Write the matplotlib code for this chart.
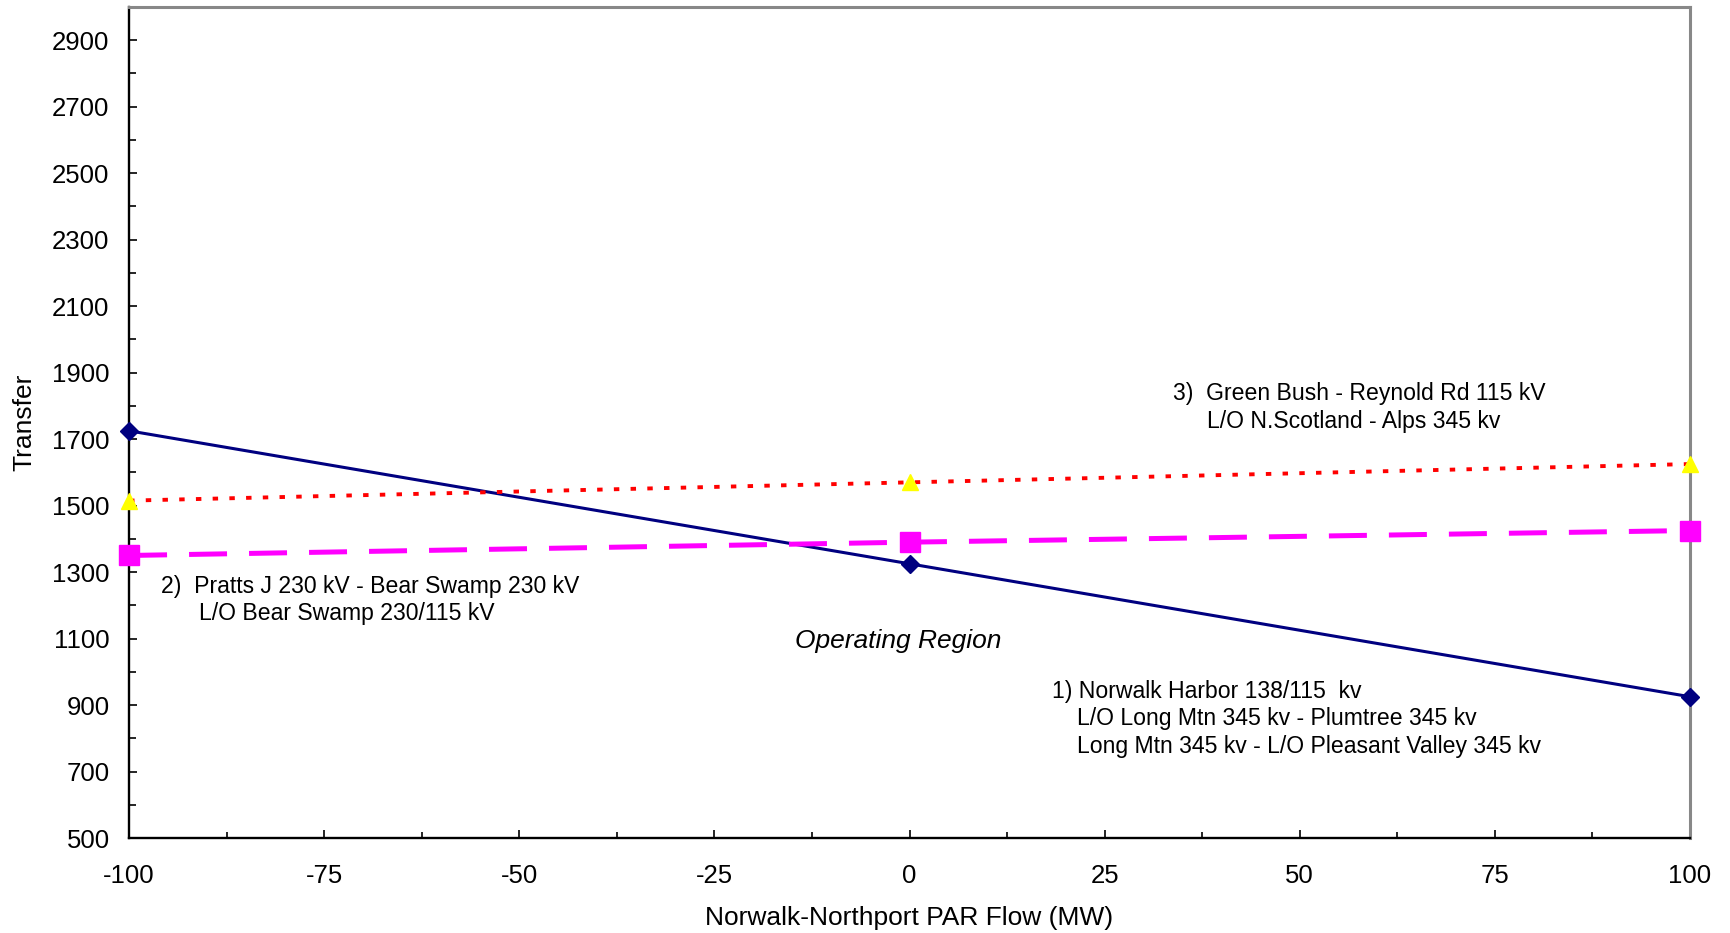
import matplotlib
matplotlib.use("Agg")
import matplotlib.pyplot as plt
from matplotlib.ticker import MultipleLocator

plt.rcParams['font.family'] = ['Liberation Sans', 'DejaVu Sans']
plt.rcParams['axes.unicode_minus'] = False

x_vals = [-100, 0, 100]
norwalk = [1725, 1325, 925]
pratts = [1350, 1390, 1425]
greenbush = [1515, 1570, 1625]

x_ticks = [-100, -75, -50, -25, 0, 25, 50, 75, 100]
y_ticks = [500, 700, 900, 1100, 1300, 1500, 1700, 1900, 2100, 2300, 2500, 2700, 2900]

fig = plt.figure(figsize=(17.30, 9.33), dpi=100)
ax = fig.add_axes([0.0746, 0.1018, 0.9023, 0.8907])

ax.plot(x_vals, norwalk, color='#000080', lw=2.2, marker='D', ms=9,
        mfc='#000080', mec='#000080', clip_on=False, zorder=5)
ax.plot(x_vals, pratts, color='#FF00FF', lw=3.6, dashes=(7.6, 4.4),
        marker='s', ms=14, mfc='#FF00FF', mec='#FF00FF', mew=1,
        clip_on=False, zorder=6)
ax.plot(x_vals, greenbush, color='#FF0000', lw=2.8, dashes=(1.4, 2.9),
        marker='^', ms=12, mfc='#FFFF00', mec='#FFFF00',
        clip_on=False, zorder=7)

ax.set_xlim(-100, 100)
ax.set_ylim(500, 3000)
ax.set_xticks(x_ticks)
ax.set_yticks(y_ticks)
ax.xaxis.set_minor_locator(MultipleLocator(12.5))
ax.yaxis.set_minor_locator(MultipleLocator(100))
ax.tick_params(axis='both', which='both', direction='in', labelsize=18.5,
               color='black')
ax.tick_params(axis='x', which='major', length=6, width=1.2, pad=19)
ax.tick_params(axis='x', which='minor', length=4, width=1.2)
ax.tick_params(axis='y', which='major', length=6, width=1.2, pad=14)
ax.tick_params(axis='y', which='minor', length=5, width=1.2)

for s in ['left', 'bottom']:
    ax.spines[s].set_color('black')
    ax.spines[s].set_linewidth(1.7)
for s in ['top', 'right']:
    ax.spines[s].set_color('#888888')
    ax.spines[s].set_linewidth(2.2)

ax.set_xlabel('Norwalk-Northport PAR Flow (MW)', fontsize=19, labelpad=13)
ax.set_ylabel('Transfer', fontsize=19, labelpad=11)

fs = 16.6
ax.text(33.7, 1836, '3)  Green Bush - Reynold Rd 115 kV', fontsize=fs, va='center', ha='left')
ax.text(38.1, 1753, 'L/O N.Scotland - Alps 345 kv', fontsize=fs, va='center', ha='left')
ax.text(-95.9, 1258, '2)  Pratts J 230 kV - Bear Swamp 230 kV', fontsize=fs, va='center', ha='left')
ax.text(-91.0, 1175, 'L/O Bear Swamp 230/115 kV', fontsize=fs, va='center', ha='left')
ax.text(-1.5, 1092, 'Operating Region', fontsize=19, style='italic', va='center', ha='center')
ax.text(18.3, 942, '1) Norwalk Harbor 138/115  kv', fontsize=fs, va='center', ha='left')
ax.text(21.5, 859, 'L/O Long Mtn 345 kv - Plumtree 345 kv', fontsize=fs, va='center', ha='left')
ax.text(21.5, 776, 'Long Mtn 345 kv - L/O Pleasant Valley 345 kv', fontsize=fs, va='center', ha='left')

fig.savefig('out.png', dpi=100)
